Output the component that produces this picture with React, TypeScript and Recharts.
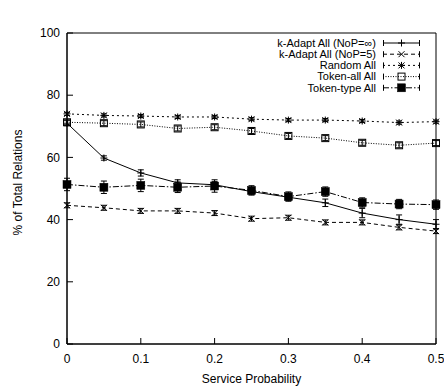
import React from 'react';
import { LineChart, Line, XAxis, YAxis, ErrorBar, Legend, ReferenceArea } from 'recharts';

const spValues = [0, 0.05, 0.1, 0.15, 0.2, 0.25, 0.3, 0.35, 0.4, 0.45, 0.5];
const xTicks = [0, 0.1, 0.2, 0.3, 0.4, 0.5];
const yTicks = [0, 20, 40, 60, 80, 100];

const kAdaptInf = [71, 59.8, 55, 51.8, 51.2, 49, 47.2, 45.4, 42.1, 40, 38.5];
const kAdaptInfErr = [0.8, 0.7, 1, 1, 1, 1, 1, 1.2, 1.5, 1.5, 1.5];
const kAdapt5 = [44.6, 43.8, 42.8, 42.8, 42.1, 40.3, 40.6, 39.1, 39.1, 37.5, 36.3];
const kAdapt5Err = [0.8, 0.8, 0.8, 0.8, 0.8, 0.8, 0.8, 0.8, 0.8, 0.8, 0.8];
const randomAll = [74, 73.5, 73.3, 73, 73, 72.3, 72, 72, 71.7, 71.2, 71.5];
const randomErr = [0.5, 0.5, 0.5, 0.5, 0.5, 0.5, 0.5, 0.5, 0.5, 0.5, 0.5];
const tokenAll = [71.3, 71, 70.6, 69.3, 69.7, 68.5, 66.9, 66.2, 64.7, 63.9, 64.6];
const tokenAllErr = [0.8, 0.8, 0.8, 0.8, 0.8, 0.8, 0.8, 0.8, 0.8, 0.8, 0.8];
const tokenType = [51.3, 50.4, 51, 50.4, 50.8, 49.4, 47.4, 49, 45.5, 45, 44.8];
const tokenTypeErr = [2, 2, 2, 1.7, 2, 1.5, 1.5, 1.5, 1.5, 1.5, 1.5];

const seriesNames = ['k-Adapt All (NoP=\u221e)', 'k-Adapt All (NoP=5)', 'Random All', 'Token-all All', 'Token-type All'];

const data = spValues.map((sp, i) => ({
  sp,
  kInf: kAdaptInf[i], kInfErr: kAdaptInfErr[i],
  k5: kAdapt5[i], k5Err: kAdapt5Err[i],
  rnd: randomAll[i], rndErr: randomErr[i],
  tAll: tokenAll[i], tAllErr: tokenAllErr[i],
  tType: tokenType[i], tTypeErr: tokenTypeErr[i],
}));

const FONT = '"Liberation Sans", Arial, Helvetica, sans-serif';

type Kind = 'plus' | 'cross' | 'star' | 'box' | 'fbox';

const series: { key: string; err: string; name: string; kind: Kind; dash?: string }[] = [
  { key: 'kInf', err: 'kInfErr', name: seriesNames[0], kind: 'plus' },
  { key: 'k5', err: 'k5Err', name: seriesNames[1], kind: 'cross', dash: '4 3' },
  { key: 'rnd', err: 'rndErr', name: seriesNames[2], kind: 'star', dash: '2 3' },
  { key: 'tAll', err: 'tAllErr', name: seriesNames[3], kind: 'box', dash: '1 1.5' },
  { key: 'tType', err: 'tTypeErr', name: seriesNames[4], kind: 'fbox', dash: '6 2 1.5 2' },
];

const Marker = ({ kind, cx, cy }: { kind: Kind; cx: number; cy: number }) => {
  const s = 3.5;
  const d = 3;
  if (kind === 'plus') {
    return (
      <g stroke="#000" strokeWidth={1}>
        <line x1={cx - s} x2={cx + s} y1={cy} y2={cy} />
        <line x1={cx} x2={cx} y1={cy - s} y2={cy + s} />
      </g>
    );
  }
  if (kind === 'cross') {
    return (
      <g stroke="#000" strokeWidth={1}>
        <line x1={cx - d} x2={cx + d} y1={cy - d} y2={cy + d} />
        <line x1={cx - d} x2={cx + d} y1={cy + d} y2={cy - d} />
      </g>
    );
  }
  if (kind === 'star') {
    return (
      <g stroke="#000" strokeWidth={1}>
        <line x1={cx - s} x2={cx + s} y1={cy} y2={cy} />
        <line x1={cx} x2={cx} y1={cy - s} y2={cy + s} />
        <line x1={cx - d} x2={cx + d} y1={cy - d} y2={cy + d} />
        <line x1={cx - d} x2={cx + d} y1={cy + d} y2={cy - d} />
      </g>
    );
  }
  if (kind === 'box') {
    return <rect x={cx - 3.5} y={cy - 3.5} width={7} height={7} fill="none" stroke="#000" strokeWidth={1} />;
  }
  return <rect x={cx - 4} y={cy - 4} width={8} height={8} fill="#000" stroke="#000" strokeWidth={0.5} />;
};

const LegendContent = () => (
  <svg width={230} height={64} style={{ display: 'block', overflow: 'visible' }}>
    {series.map((s, i) => {
      const y = 7 + i * 11.2;
      return (
        <g key={s.key}>
          <text x={176} y={y} dy="0.35em" textAnchor="end" fontSize={11} fontFamily={FONT} fill="#000">
            {s.name}
          </text>
          <line x1={183} x2={220} y1={y} y2={y} stroke="#000" strokeWidth={1} strokeDasharray={s.dash} />
          <line x1={183.5} x2={183.5} y1={y - 3} y2={y + 3} stroke="#000" strokeWidth={1} />
          <line x1={219.5} x2={219.5} y1={y - 3} y2={y + 3} stroke="#000" strokeWidth={1} />
          <Marker kind={s.kind} cx={201.5} cy={y} />
        </g>
      );
    })}
  </svg>
);

const tickStyle = { fill: '#000', fontSize: 12, fontFamily: FONT };
const Empty = () => <g />;

export default function App() {
  return (
    <div style={{ position: 'absolute', left: 0, top: 0, width: 444, height: 387, background: '#fff' }}>
      <LineChart
        width={444}
        height={387}
        data={data}
        margin={{ top: 33, right: 8, bottom: 0, left: 7 }}
        style={{ fontFamily: FONT }}
      >
        <ReferenceArea x1={0} x2={0.5} y1={0} y2={100} fill="none" stroke="#000" strokeWidth={1} fillOpacity={0} />
        <XAxis
          dataKey="sp"
          type="number"
          domain={[0, 0.5]}
          ticks={xTicks}
          tickFormatter={(v: number) => String(v)}
          height={43}
          stroke="#000"
          tickSize={-6}
          tickMargin={16}
          tick={tickStyle}
          axisLine={{ stroke: '#000', strokeWidth: 1 }}
          tickLine={{ stroke: '#000' }}
          label={(p: any) => (
            <text
              x={p.viewBox.x + p.viewBox.width / 2}
              y={p.viewBox.y + p.viewBox.height - 4}
              textAnchor="middle"
              fontSize={12}
              fontFamily={FONT}
              fill="#000"
            >
              Service Probability
            </text>
          )}
        />
        <XAxis
          xAxisId="top"
          orientation="top"
          type="number"
          domain={[0, 0.5]}
          ticks={xTicks}
          height={0}
          stroke="#000"
          tickSize={-6}
          tick={Empty}
          axisLine={{ stroke: '#000', strokeWidth: 1 }}
          tickLine={{ stroke: '#000' }}
          label={(p: any) => (
            <text
              x={p.viewBox.x + p.viewBox.width / 2}
              y={p.viewBox.y - 15}
              textAnchor="middle"
              fontSize={12}
              fontFamily={FONT}
              fill="#000"
            >
              % of Total Relations vs SP
            </text>
          )}
        />
        <YAxis
          type="number"
          domain={[0, 100]}
          ticks={yTicks}
          width={60}
          stroke="#000"
          tickSize={-6}
          tickMargin={13}
          tick={tickStyle}
          axisLine={{ stroke: '#000', strokeWidth: 1 }}
          tickLine={{ stroke: '#000' }}
          label={(p: any) => {
            const cx = p.viewBox.x + 11;
            const cy = p.viewBox.y + p.viewBox.height / 2 - 6;
            return (
              <text
                x={cx}
                y={cy}
                transform={`rotate(-90 ${cx} ${cy})`}
                textAnchor="middle"
                dominantBaseline="central"
                fontSize={12}
                fontFamily={FONT}
                fill="#000"
              >
                % of Total Relations
              </text>
            );
          }}
        />
        <YAxis
          yAxisId="right"
          orientation="right"
          type="number"
          domain={[0, 100]}
          ticks={yTicks}
          width={0}
          stroke="#000"
          tickSize={-6}
          tick={Empty}
          axisLine={{ stroke: '#000', strokeWidth: 1 }}
          tickLine={{ stroke: '#000' }}
        />
        <Legend
          layout="horizontal"
          verticalAlign="middle"
          align="center"
          content={LegendContent}
          wrapperStyle={{ top: 36, left: 200, width: 230, height: 64 }}
        />
        {series.map((s) => (
          <Line
            key={s.key}
            dataKey={s.key}
            name={s.name}
            stroke="#000"
            strokeWidth={1}
            strokeDasharray={s.dash}
            isAnimationActive={false}
            dot={(p: any) => <Marker key={`${s.key}-${p.index}`} kind={s.kind} cx={p.cx} cy={p.cy} />}
            activeDot={false}
          >
            <ErrorBar dataKey={s.err} width={3} stroke="#000" strokeWidth={1} direction="y" />
          </Line>
        ))}
      </LineChart>
    </div>
  );
}
